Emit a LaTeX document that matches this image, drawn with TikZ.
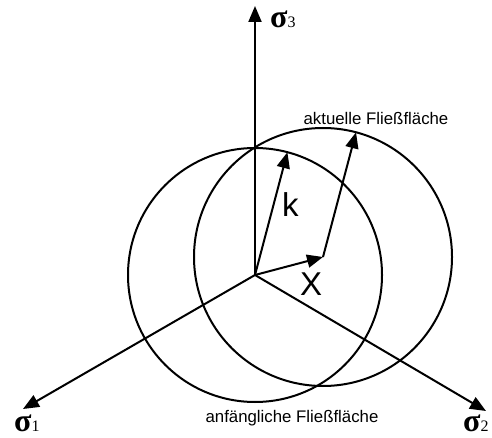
\documentclass[tikz,border=0pt]{standalone}
\usepackage{fontspec}
\setmainfont{Liberation Sans}
\newfontfamily\grk{Liberation Serif}
\usetikzlibrary{arrows.meta}
\tikzset{
  ln/.style={line width=2pt, line cap=butt},
  arr/.style={ln, -{Triangle[length=16pt,width=13pt]}},
  captxt/.style={font=\fontsize{16.8}{18}\selectfont, inner sep=0pt, anchor=base},
  bigtxt/.style={font=\fontsize{33}{36}\selectfont, inner sep=0pt, anchor=base west},
  sigtxt/.style={inner sep=0pt, anchor=base west}
}
\newcommand{\sgm}[1]{{\grk\bfseries\fontsize{32}{32}\selectfont σ}{\grk\fontsize{16}{16}\selectfont #1}}
\begin{document}
\begin{tikzpicture}[x=1pt,y=-1pt]
\useasboundingbox (0,0) rectangle (492,438);
\coordinate (O) at (255,275);
\coordinate (S3) at (255,6);
\coordinate (S1) at (23,409);
\coordinate (S2) at (486,411);
\coordinate (C) at (323,257);
\coordinate (K1) at (287.4,152.2);
\coordinate (K2) at (356,132.3);
% circles
\draw[ln] (O) circle[radius=127];
\draw[ln] (C) circle[radius=129];
% axes
\draw[arr] (O) -- (S3);
\draw[arr] (O) -- (S1);
\draw[arr] (O) -- (S2);
% vectors
\draw[arr] (O) -- (K1);
\draw[arr] (O) -- (C);
\draw[arr] (C) -- (K2);
% labels
\node[sigtxt] (l3) at (270,28) {\sgm{3}};
\node[sigtxt] (l1) at (14,431) {\sgm{1}};
\node[sigtxt] (l2) at (463,431) {\sgm{2}};
\node[bigtxt] (lk) at (282,217) {k};
\node[bigtxt] (lx) at (300,295) {X};
\node[captxt] (akt) at (376,125) {aktuelle Fließfläche};
\node[captxt] (anf) at (292,422) {anfängliche Fließfläche};
\end{tikzpicture}
\end{document}
